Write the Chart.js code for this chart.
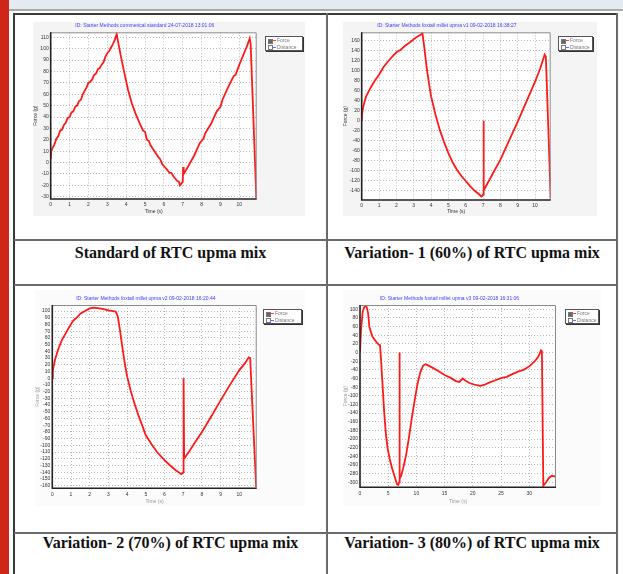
<!DOCTYPE html>
<html>
<head>
<meta charset="utf-8">
<script src="https://cdn.jsdelivr.net/npm/chart.js@4.4.0/dist/chart.umd.min.js"></script>
<style>
  html, body { margin: 0; padding: 0; background: #fff; }
  #page { position: relative; width: 623px; height: 574px; overflow: hidden; background: #fff; }
  .abs { position: absolute; }
  .redbar { left: 0; top: 0; width: 9px; height: 574px; background: #d0261a; }
  .topband { left: 9px; top: 0; width: 614px; height: 9px; background: #e5eaf1; }
  .topline { left: 9px; top: 9px; width: 614px; height: 2px; background: #a9a9a9; }
  .hl { height: 2px; background: #6a6a6a; }
  .vl { width: 2px; background: #6a6a6a; }
  .caption { font: bold 16px "Liberation Serif", "Times New Roman", serif; color: #111;
             text-align: center; white-space: nowrap; line-height: 20px; }
  canvas { position: absolute; }
  .lg { position: absolute; border: 1px solid #555; box-shadow: 1px 1px 0 #333; background: #fff;
        font: 5px "Liberation Sans", Arial, sans-serif; color: #777; box-sizing: border-box; }
  .lg .row { position: relative; height: 6.5px; line-height: 6.5px; padding-left: 11px; white-space: nowrap; }
  .lg .cb { position: absolute; left: 1.5px; top: 1.5px; width: 3px; height: 3px; border: 0.7px solid #777; background: #fff; }
  .lg .cb.on { background: #666; }
  .lg .ln { position: absolute; left: 6px; top: 3px; width: 4px; height: 0.9px; }
</style>
</head>
<body>
<div id="page">
  <div class="abs redbar"></div>
  <div class="abs topband"></div>
  <div class="abs topline"></div>

  <!-- table grid -->
  <div class="abs hl" style="left:14px;top:13px;width:604px;background:#3a3a3a"></div>
  <div class="abs vl" style="left:13px;top:13px;height:561px;background:#3a3a3a"></div>
  <div class="abs vl" style="left:616px;top:13px;height:561px"></div>
  <div class="abs vl" style="left:326px;top:13px;height:561px"></div>
  <div class="abs hl" style="left:14px;top:239px;width:604px"></div>
  <div class="abs hl" style="left:14px;top:284px;width:604px"></div>
  <div class="abs hl" style="left:14px;top:532px;width:604px"></div>

  <canvas id="c1" width="272" height="194" style="left:33px;top:22px"></canvas>
  <canvas id="c2" width="254" height="194" style="left:343px;top:22px"></canvas>
  <canvas id="c3" width="270" height="216" style="left:35px;top:290px"></canvas>
  <canvas id="c4" width="258" height="216" style="left:343px;top:290px"></canvas>

  <div class="lg" style="left:265px;top:36px;width:38px;height:15px">
    <div class="row"><span class="cb on"></span><span class="ln" style="background:#ff4040"></span>Force</div>
    <div class="row"><span class="cb"></span><span class="ln" style="background:#6a6aff"></span>Distance</div>
  </div>
  <div class="lg" style="left:558px;top:36px;width:35px;height:15px">
    <div class="row"><span class="cb on"></span><span class="ln" style="background:#ff4040"></span>Force</div>
    <div class="row"><span class="cb"></span><span class="ln" style="background:#6a6aff"></span>Distance</div>
  </div>
  <div class="lg" style="left:263px;top:309px;width:39px;height:15px">
    <div class="row"><span class="cb on"></span><span class="ln" style="background:#ff4040"></span>Force</div>
    <div class="row"><span class="cb"></span><span class="ln" style="background:#6a6aff"></span>Distance</div>
  </div>
  <div class="lg" style="left:565px;top:309px;width:34px;height:15px">
    <div class="row"><span class="cb on"></span><span class="ln" style="background:#ff4040"></span>Force</div>
    <div class="row"><span class="cb"></span><span class="ln" style="background:#6a6aff"></span>Distance</div>
  </div>

  <div class="abs caption" style="left:15px;top:243px;width:311px">Standard of RTC upma mix</div>
  <div class="abs caption" style="left:328px;top:243px;width:288px">Variation- 1 (60%) of RTC upma mix</div>
  <div class="abs caption" style="left:15px;top:533px;width:311px">Variation- 2 (70%) of RTC upma mix</div>
  <div class="abs caption" style="left:328px;top:533px;width:288px">Variation- 3 (80%) of RTC upma mix</div>
</div>

<script>
// --- data ---
const titles = [
  'ID: Starter Methods commerical standard 24-07-2018 13:01:06',
  'ID: Starter Methods foxtail millet upma v1 09-02-2018 16:38:27',
  'ID: Starter Methods foxtail millet upma v2 09-02-2018 16:20:44',
  'ID: Starter Methods foxtail millet upma v3 09-02-2018 16:31:06'
];

// standard
const time1 = [0, 0.03, 0.1, 0.2, 0.3, 0.4, 0.5, 0.6, 0.7, 0.8, 0.9, 1.0, 1.1, 1.2, 1.3, 1.4, 1.5, 1.6, 1.7, 1.8,
  1.9, 2.0, 2.1, 2.2, 2.3, 2.4, 2.5, 2.6, 2.7, 2.8, 2.9, 3.0, 3.1, 3.2, 3.3, 3.4, 3.5,
  3.55, 3.7, 3.9, 4.1, 4.3, 4.5, 4.7, 4.9, 5.0, 5.1, 5.2, 5.3, 5.5, 5.7, 5.8, 5.9, 6.1, 6.3, 6.4, 6.5,
  6.6, 6.7, 6.8, 6.85, 6.95, 7.0,
  7.02, 7.05, 7.3, 7.6, 7.9, 8.1, 8.2, 8.5, 8.8, 9.0, 9.1, 9.4, 9.7, 9.8, 10.0, 10.2, 10.4, 10.55, 10.6, 10.9];
const force1 = [3, 10, 13, 16, 21, 23, 28, 29, 33, 35, 39, 40, 44, 45, 49, 50, 54, 55, 60, 63,
  66, 70, 71, 73, 77, 78, 82, 83, 86, 88, 93, 96, 98, 101, 104, 108, 113,
  108, 95, 79, 64, 52, 43, 35, 28, 27, 20, 19, 15, 10, 5, 3, -1, -5, -9, -9, -12,
  -14, -16, -17, -20, -18, -17,
  -4, -10, -3, 6, 17, 21, 26, 34, 45, 49, 55, 66, 76, 77, 86, 94, 102, 109, 104, -31];

// variation 1
const time2 = [0, 0.03, 0.1, 0.25, 0.5, 0.75, 1.0, 1.25, 1.5, 1.75, 2.0, 2.25, 2.5, 2.75, 3.0, 3.2, 3.4, 3.5,
  3.6, 3.75, 3.9, 4.0, 4.25, 4.5, 4.75, 5.0, 5.25, 5.5, 5.75, 6.0, 6.25, 6.5, 6.75, 6.9, 6.98, 7.0,
  7.02, 7.05, 7.5, 8.0, 8.5, 9.0, 9.5, 10.0, 10.3, 10.55, 10.62, 10.9];
const force2 = [0, 15, 30, 48, 65, 80, 92, 107, 118, 128, 137, 142, 150, 156, 163, 168, 172, 176,
  150, 105, 70, 49, 13, -18, -43, -65, -84, -99, -111, -121, -131, -140, -147, -152, -150, -148,
  0, -140, -110, -78, -40, -2, 38, 78, 105, 132, 128, -155];

// variation 2
const time3 = [0, 0.03, 0.15, 0.3, 0.5, 0.7, 0.9, 1.1, 1.3, 1.5, 1.75, 2.0, 2.25, 2.5, 2.75, 3.0, 3.25, 3.4,
  3.5, 3.6, 3.75, 3.9, 4.0, 4.2, 4.4, 4.6, 4.8, 5.0, 5.3, 5.6, 6.0, 6.3, 6.6, 6.9, 6.98, 7.0,
  7.02, 7.05, 7.3, 7.6, 8.0, 8.5, 9.0, 9.5, 10.0, 10.3, 10.5, 10.58, 10.9];
const force3 = [0, 12, 28, 42, 56, 66, 76, 85, 90, 96, 100, 104, 105, 104, 103, 101, 100, 99,
  92, 75, 45, 18, 3, -20, -38, -55, -70, -85, -98, -110, -122, -130, -137, -143, -141, -140,
  0, -120, -110, -97, -80, -57, -33, -10, 12, 22, 31, 30, -162];

// variation 3
const time4 = [0, 0.18, 0.47, 0.7, 0.95, 1.2, 1.45, 1.66, 2.0, 2.25, 2.7, 3.1, 3.45, 3.55, 3.75, 4.0, 4.3,
  4.6, 4.9, 5.3, 5.7, 6.1, 6.4, 6.6, 6.8, 6.95, 7.0, 7.05, 7.3, 7.7, 8.2, 8.7, 9.2, 9.7, 10.2, 10.7,
  11.2, 11.6, 12.0, 13.0, 14.0, 15.0, 16.0, 17.0, 17.6, 18.2, 18.8, 19.5, 20.5, 21.3, 22.0, 23.0,
  24.0, 25.0, 26.0, 27.0, 28.0, 29.0, 30.0, 31.0, 31.6, 32.1, 32.25, 32.5, 33.0, 33.5, 34.0, 34.7];
const force4 = [0, 51, 94, 104, 108, 105, 90, 59, 45, 36, 28, 21, 17, 17, -20, -75, -140,
  -190, -222, -248, -268, -285, -298, -305, -306, -300, 0, -292, -285, -265, -235, -195, -150, -110, -72, -45,
  -30, -27, -29, -36, -44, -52, -58, -66, -68, -60, -66, -71, -75, -77, -75, -69,
  -64, -59, -56, -50, -44, -40, -32, -20, -10, 5, 3, -308, -300, -290, -285, -287];

// axis ticks
const yTicks1 = [-30, -20, -10, 0, 10, 20, 30, 40, 50, 60, 70, 80, 90, 100, 110];
const yTicks2 = [-140, -120, -100, -80, -60, -40, -20, 0, 20, 40, 60, 80, 100, 120, 140, 160];
const yTicks3 = [-160, -150, -140, -130, -120, -110, -100, -90, -80, -70, -60, -50, -40, -30, -20, -10,
  0, 10, 20, 30, 40, 50, 60, 70, 80, 90, 100];
const yTicks4 = [-300, -280, -260, -240, -220, -200, -180, -160, -140, -120, -100, -80, -60, -40, -20,
  0, 20, 40, 60, 80, 100];
const xTicksShort = [0, 1, 2, 3, 4, 5, 6, 7, 8, 9, 10];
const xTicksLong = [0, 5, 10, 15, 20, 25, 30];

const FONT = '"Liberation Sans", Arial, sans-serif';

// gray panel, white plot area, dark frame
const framePlugin = {
  id: 'frame',
  beforeDraw(chart, args, opts) {
    const { ctx, chartArea: a } = chart;
    ctx.save();
    ctx.fillStyle = opts.panel;
    ctx.fillRect(0, 0, chart.width, chart.height);
    ctx.fillStyle = '#fff';
    ctx.fillRect(a.left, a.top, a.right - a.left, a.bottom - a.top);
    ctx.restore();
  },
  afterDatasetsDraw(chart) {
    const { ctx, chartArea: a } = chart;
    ctx.save();
    ctx.lineWidth = 1;
    ctx.strokeStyle = '#8a8a8a';
    ctx.beginPath();
    ctx.moveTo(a.left, a.top + 0.5);
    ctx.lineTo(a.right - 0.5, a.top + 0.5);
    ctx.lineTo(a.right - 0.5, a.bottom);
    ctx.stroke();
    ctx.lineWidth = 1.6;
    ctx.strokeStyle = '#222';
    ctx.beginPath();
    ctx.moveTo(a.left, a.top);
    ctx.lineTo(a.left, a.bottom);
    ctx.lineTo(a.right, a.bottom);
    ctx.stroke();
    ctx.restore();
  }
};

function drawForceChart(id, cfg) {
  const points = cfg.time.map((t, i) => ({ x: t, y: cfg.force[i] }));
  const gridOpts = { color: '#a8a8a8', drawTicks: false, lineWidth: 0.8 };
  const borderOpts = { display: false, dash: [1, 2] };
  return new Chart(document.getElementById(id), {
    type: 'line',
    data: {
      datasets: [{
        label: 'Force',
        data: points,
        borderColor: '#ff1a1a',
        borderWidth: 1.8,
        pointRadius: 0,
        tension: 0,
        fill: false
      }]
    },
    plugins: [framePlugin],
    options: {
      responsive: false,
      animation: false,
      devicePixelRatio: 1,
      layout: { padding: { left: 0, top: 0, right: cfg.padRight, bottom: 0 } },
      plugins: {
        legend: { display: false },
        tooltip: { enabled: false },
        frame: { panel: cfg.panel },
        title: {
          display: true,
          text: cfg.title,
          color: '#3d3dff',
          font: { family: FONT, size: 5, lineHeight: 1.2, weight: 'normal' },
          padding: { top: cfg.titleTop, bottom: cfg.titleBottom }
        }
      },
      scales: {
        x: {
          type: 'linear',
          min: 0,
          max: cfg.xMax,
          afterBuildTicks: s => { s.ticks = cfg.xTicks.map(v => ({ value: v })); },
          afterFit: s => { s.height = cfg.xHeight; },
          grid: gridOpts,
          border: borderOpts,
          ticks: { color: '#333', font: { family: FONT, size: 5 }, padding: 3, autoSkip: false, maxRotation: 0 },
          title: { display: true, text: 'Time (s)', color: cfg.titleGray, font: { family: FONT, size: 5 }, padding: { top: 0, bottom: 1 } }
        },
        y: {
          type: 'linear',
          min: cfg.yMin,
          max: cfg.yMax,
          afterBuildTicks: s => { s.ticks = cfg.yTicks.map(v => ({ value: v })); },
          afterFit: s => { s.width = cfg.yWidth; },
          grid: gridOpts,
          border: borderOpts,
          ticks: { color: '#333', font: { family: FONT, size: 5 }, padding: 2, autoSkip: false },
          title: { display: true, text: 'Force (g)', color: cfg.titleGray, font: { family: FONT, size: 5 }, padding: 0 }
        }
      }
    }
  });
}

drawForceChart('c1', {
  title: titles[0], time: time1, force: force1, xMax: 10.92, yMin: -32, yMax: 114.4,
  xTicks: xTicksShort, yTicks: yTicks1, yWidth: 17.7, xHeight: 17, padRight: 48.3,
  titleTop: 1, titleBottom: 3.3, panel: '#f4f4f4', titleGray: '#333'
});
drawForceChart('c2', {
  title: titles[1], time: time2, force: force2, xMax: 10.9, yMin: -159, yMax: 177,
  xTicks: xTicksShort, yTicks: yTicks2, yWidth: 18.7, xHeight: 16, padRight: 46.3,
  titleTop: 1, titleBottom: 3.3, panel: '#f4f4f4', titleGray: '#333'
});
drawForceChart('c3', {
  title: titles[2], time: time3, force: force3, xMax: 10.93, yMin: -164, yMax: 109,
  xTicks: xTicksShort, yTicks: yTicks3, yWidth: 17.3, xHeight: 17.7, padRight: 48.3,
  titleTop: 5.3, titleBottom: 3.7, panel: '#fbfbfb', titleGray: '#999'
});
drawForceChart('c4', {
  title: titles[3], time: time4, force: force4, xMax: 34.75, yMin: -311.6, yMax: 110,
  xTicks: xTicksLong, yTicks: yTicks4, yWidth: 17, xHeight: 18.7, padRight: 45,
  titleTop: 5.3, titleBottom: 3.7, panel: '#fbfbfb', titleGray: '#999'
});
</script>
</body>
</html>
